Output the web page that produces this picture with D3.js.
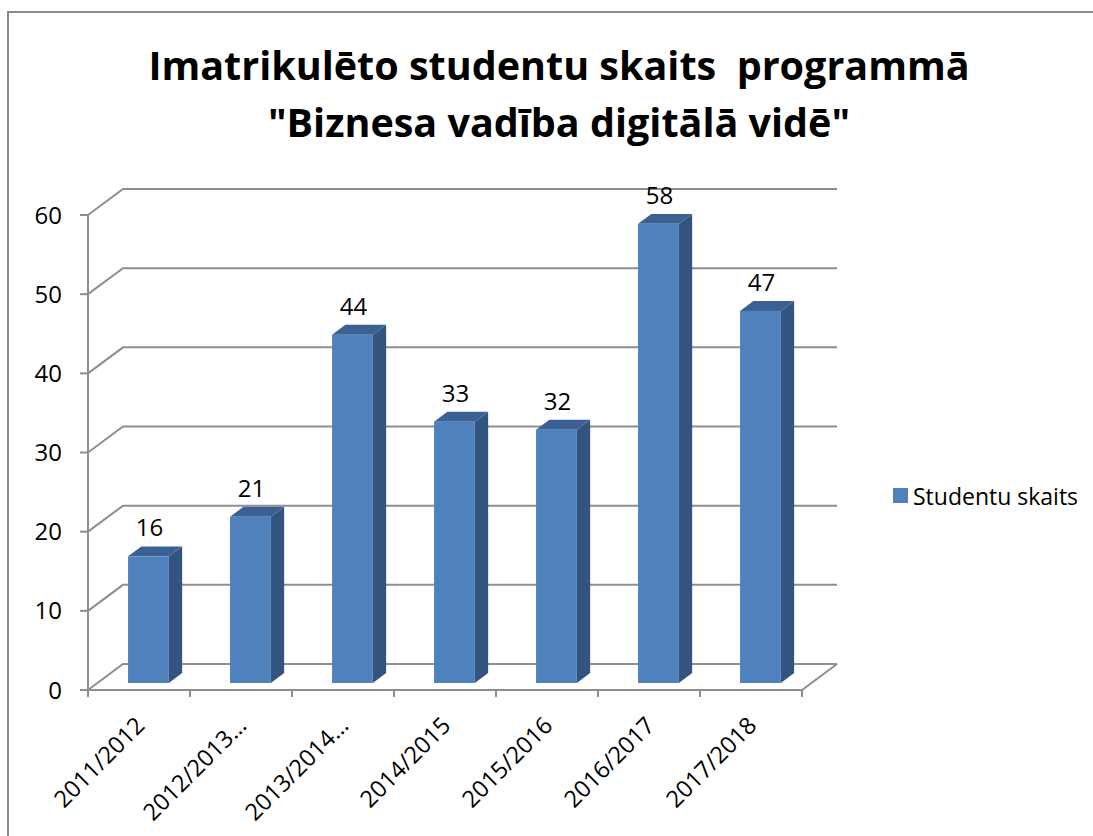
<!doctype html>
<html lang="lv">
<head>
<meta charset="utf-8">
<title>Imatrikulēto studentu skaits</title>
<script src="https://cdn.jsdelivr.net/npm/d3@7/dist/d3.min.js"></script>
<style>
  body { margin: 0; background: #fff; }
  svg { display: block; font-family: "Open Sans", Lato, sans-serif; }
  .grid { stroke: #8e8e8e; stroke-width: 2; fill: none; }
  .title { white-space: pre; }
</style>
</head>
<body>
<div id="chart"></div>
<script>
// data
var years = ["2011/2012", "2012/2013…", "2013/2014…", "2014/2015", "2015/2016", "2016/2017", "2017/2018"];
var students = [16, 21, 44, 33, 32, 58, 47];
var yTicks = [0, 10, 20, 30, 40, 50, 60];
var titleLines = ["Imatrikulēto studentu skaits  programmā", "\"Biznesa vadība digitālā vidē\""];
var seriesName = "Studentu skaits";

var width = 1093, height = 836;
var DX = 35, DY = -26;          // depth offset of the back wall
var zFront = 0.27, zBack = 0.65; // bar depth inside the floor

var svg = d3.select("#chart").append("svg")
  .attr("width", width)
  .attr("height", height);

// chart frame
svg.append("rect")
  .attr("x", 8).attr("y", 12)
  .attr("width", 1200).attr("height", 1000)
  .attr("fill", "none").attr("stroke", "#8a8a8a").attr("stroke-width", 2);

var x = d3.scaleBand().domain(years).range([88, 802])
  .paddingInner(0.6).paddingOuter(0.3);
var y = d3.scaleLinear().domain([0, 60]).range([690, 215]);
var x0 = 88, x1 = 802;

// project a point at depth z (0 front, 1 back)
function px(xv, z) { return xv + z * DX; }
function py(yv, z) { return yv + z * DY; }

// gridlines: side wall diagonal + back wall
var grid = svg.append("g");
yTicks.forEach(function (t) {
  var yy = y(t);
  grid.append("path").attr("class", "grid")
    .attr("d", "M" + x0 + "," + yy + "L" + px(x0, 1) + "," + py(yy, 1) + "L" + px(x1, 1) + "," + py(yy, 1));
});
// floor front edge and right side
grid.append("path").attr("class", "grid")
  .attr("d", "M" + x0 + "," + y(0) + "L" + x1 + "," + y(0) + "L" + px(x1, 1) + "," + py(y(0), 1));
// left axis
grid.append("line").attr("class", "grid")
  .attr("x1", x0).attr("x2", x0).attr("y1", y(60)).attr("y2", y(0));
// y ticks
grid.selectAll(".yt").data(yTicks).enter().append("line").attr("class", "grid")
  .attr("x1", x0 - 8).attr("x2", x0).attr("y1", d => y(d)).attr("y2", d => y(d));
// x ticks at category boundaries
var step = x.step();
grid.selectAll(".xt").data(d3.range(years.length + 1)).enter().append("line").attr("class", "grid")
  .attr("x1", d => x0 + d * step).attr("x2", d => x0 + d * step)
  .attr("y1", y(0)).attr("y2", y(0) + 7);

// y labels
svg.append("g").selectAll("text").data(yTicks).enter().append("text")
  .attr("x", 62).attr("y", d => y(d)).attr("dy", "0.36em")
  .attr("text-anchor", "end").attr("font-size", 24).attr("fill", "#000")
  .text(d => d);

// x labels
svg.append("g").selectAll("text").data(years).enter().append("text")
  .attr("transform", d => "translate(" + (x(d) + x.bandwidth() / 2 + 7) + "," + 727 + ") rotate(-45)")
  .attr("text-anchor", "end").attr("font-size", 23.5).attr("fill", "#000")
  .text(d => d);

// bars
var bw = x.bandwidth();
var bars = svg.append("g").selectAll("g").data(years).enter().append("g");
bars.each(function (d, i) {
  var g = d3.select(this);
  var v = students[i];
  var xl = px(x(d), zFront), xr = xl + bw;
  var yb = py(y(0), zFront), yt = py(y(v), zFront);
  var ddx = (zBack - zFront) * DX, ddy = (zBack - zFront) * DY;
  g.append("polygon").attr("fill", "#32547e")
    .attr("points", [[xr, yb], [xr, yt], [xr + ddx, yt + ddy], [xr + ddx, yb + ddy]].join(" "));
  g.append("polygon").attr("fill", "#3b6093")
    .attr("points", [[xl, yt], [xr, yt], [xr + ddx, yt + ddy], [xl + ddx, yt + ddy]].join(" "));
  g.append("rect").attr("fill", "#4f81bd")
    .attr("x", xl).attr("y", yt).attr("width", bw).attr("height", yb - yt);
  g.append("text")
    .attr("x", xl + bw / 2 + 1).attr("y", yt + ddy - 10)
    .attr("text-anchor", "middle").attr("font-size", 24).attr("fill", "#000")
    .text(v);
});

// title
svg.append("g").selectAll("text").data(titleLines).enter().append("text")
  .attr("class", "title")
  .attr("x", 559).attr("y", (d, i) => 80 + i * 57)
  .attr("text-anchor", "middle").attr("font-size", 39.5).attr("font-weight", "bold").attr("fill", "#000")
  .text(d => d);

// legend
var lg = svg.append("g");
lg.append("rect").attr("x", 893).attr("y", 488).attr("width", 15).attr("height", 15).attr("fill", "#4f81bd");
lg.append("text").attr("x", 913).attr("y", 505).attr("font-size", 23).attr("fill", "#000").text(seriesName);
</script>
</body>
</html>
